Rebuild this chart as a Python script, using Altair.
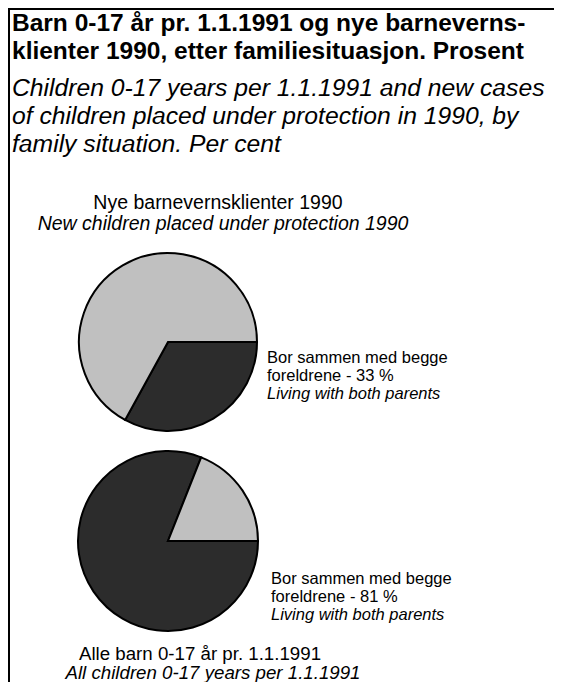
import math
import altair as alt
import pandas as pd

# ---- data / text ----
title_no = ["Barn 0-17 år pr. 1.1.1991 og nye barneverns-",
            "klienter 1990, etter familiesituasjon. Prosent"]
title_en = ["Children 0-17 years per 1.1.1991 and new cases",
            "of children placed under protection in 1990, by",
            "family situation. Per cent"]
categories = ["Bor sammen med begge foreldrene", "Annen familiesituasjon"]
new_cases_pct = [33, 67]       # Nye barnevernsklienter 1990
all_children_pct = [81, 19]    # Alle barn 0-17 år pr. 1.1.1991
top_pie_title = ["Nye barnevernsklienter 1990", "New children placed under protection 1990"]
bottom_pie_title = ["Alle barn 0-17 år pr. 1.1.1991", "All children 0-17 years per 1.1.1991"]
top_label = ["Bor sammen med begge", "foreldrene - 33 %", "Living with both parents"]
bottom_label = ["Bor sammen med begge", "foreldrene - 81 %", "Living with both parents"]

W, H = 546, 674
OFF = 8  # page margin
FONT = "Liberation Sans"

dummy = pd.DataFrame({"a": [0]})

theta_scale = alt.Scale(domain=[0, 100], range=[math.pi / 2, math.pi / 2 + 2 * math.pi])
color_scale = alt.Scale(domain=categories, range=["#2c2c2c", "#c0c0c0"])


def pie(values, cx, cy, r):
    df = pd.DataFrame({"cat": categories, "value": values, "ord": [0, 1]})
    return alt.Chart(df).mark_arc(stroke="black", strokeWidth=2).encode(
        theta=alt.Theta("value:Q", stack=True, scale=theta_scale),
        color=alt.Color("cat:N", scale=color_scale, legend=None),
        order=alt.Order("ord:Q"),
        x=alt.value(cx - OFF),
        y=alt.value(cy - OFF),
        radius=alt.value(r),
    )


def line(text, x, y, size, align="left", bold=False, italic=False):
    return alt.Chart(dummy).mark_text(
        align=align, baseline="alphabetic", font=FONT, fontSize=size,
        fontWeight="bold" if bold else "normal",
        fontStyle="italic" if italic else "normal", color="black",
    ).encode(x=alt.value(x - OFF), y=alt.value(y - OFF), text=alt.value(text))


layers = []
# frame
layers.append(alt.Chart(dummy).mark_rule(color="black", strokeWidth=2).encode(
    x=alt.value(0), x2=alt.value(W), y=alt.value(1)))
layers.append(alt.Chart(dummy).mark_rule(color="black", strokeWidth=2).encode(
    x=alt.value(1), y=alt.value(0), y2=alt.value(H)))

for i, t in enumerate(title_no):
    layers.append(line(t, 12, 31 + i * 28, 24.5, bold=True))
for i, t in enumerate(title_en):
    layers.append(line(t, 12, 96 + i * 28, 24.7, italic=True))

layers.append(line(top_pie_title[0], 218, 209, 19.5, align="center"))
layers.append(line(top_pie_title[1], 223, 230, 19.5, align="center", italic=True))

layers.append(pie(new_cases_pct, 168, 342, 89))
layers.append(pie(all_children_pct, 168, 541, 90))

for i, t in enumerate(top_label):
    layers.append(line(t, 267, 363 + i * 18, 16.5, italic=(i == 2)))
for i, t in enumerate(bottom_label):
    layers.append(line(t, 271, 584 + i * 18, 16.5, italic=(i == 2)))

layers.append(line(bottom_pie_title[0], 200, 660, 18.7, align="center"))
layers.append(line(bottom_pie_title[1], 213, 679, 18.7, align="center", italic=True))

chart = alt.layer(*layers).properties(
    width=W, height=H, padding=0, autosize=alt.AutoSizeParams(type="none")
).configure_view(stroke=None)

chart.save("out.html", embed_options={"renderer": "svg", "actions": False})
